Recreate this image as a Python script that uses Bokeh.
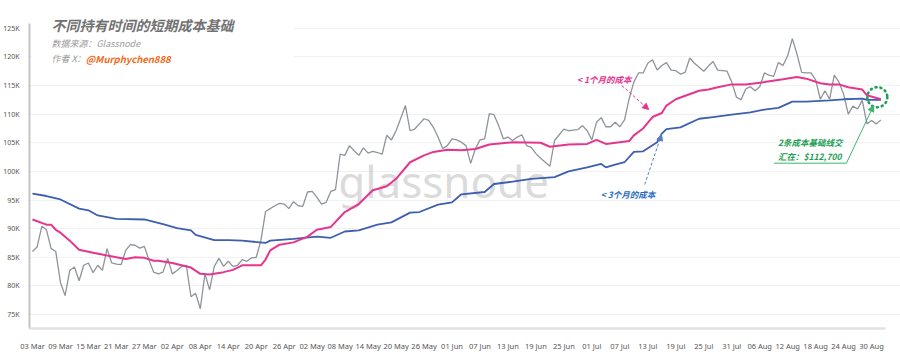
import datetime as dt
import pandas as pd
from bokeh.plotting import figure
from bokeh.models import (Label, Arrow, NormalHead, FixedTicker, DatetimeTickFormatter,
                          CustomJSTickFormatter, Range1d, BoxAnnotation)
from bokeh.embed import file_html
from bokeh.resources import INLINE

# ---------------- data (values in thousands of USD) ----------------
start_date = "2025-03-03"

# BTC price, daily from 03 Mar
price_k = [86.0, 86.8, 90.4, 89.8, 86.5, 86.0, 80.6, 78.3, 82.7, 83.3,
           80.9, 83.6, 84.0, 82.3, 83.6, 82.7, 86.5, 84.0, 83.8, 83.7,
           86.2, 87.2, 87.1, 86.6, 86.9, 84.5, 82.4, 82.1, 82.4, 84.8,
           82.1, 82.7, 83.4, 83.6, 78.1, 78.7, 76.0, 82.1, 79.3, 83.4,
           84.8, 83.4, 84.3, 83.4, 83.6, 84.6, 84.3, 84.9, 85.0, 87.9,
           93.0, 93.5, 94.0, 94.4, 94.3, 93.5, 94.7, 94.0, 93.9, 96.4,
           96.5, 95.5, 94.3, 94.6, 96.5, 96.8, 103.0, 102.8, 104.5, 103.6,
           102.8, 104.1, 103.2, 103.5, 103.3, 103.0, 106.3, 105.5, 107.1, 109.3,
           111.5, 107.1, 107.4, 108.3, 109.2, 108.9, 107.7, 106.0, 104.0, 104.5,
           105.7, 105.5, 105.1, 104.5, 101.4, 103.9, 105.5, 105.7, 110.1, 109.9,
           108.0, 105.7, 106.0, 105.4, 106.0, 106.4, 104.5, 104.2, 103.1, 102.3,
           101.6, 100.9, 105.4, 106.4, 107.4, 107.1, 107.2, 107.3, 108.0, 107.1,
           105.5, 108.6, 109.4, 107.8, 107.8, 108.6, 107.8, 109.0, 112.7, 115.6,
           117.2, 117.2, 118.9, 119.5, 117.7, 118.5, 119.0, 117.7, 117.6, 117.0,
           117.3, 119.8, 118.9, 118.2, 117.5, 118.4, 119.2, 117.7, 117.6, 117.5,
           115.6, 113.0, 112.5, 114.4, 114.8, 114.1, 114.8, 117.2, 116.8, 116.6,
           119.0, 118.5, 120.2, 123.2, 120.5, 117.3, 117.2, 117.2, 116.0, 112.6,
           114.1, 112.6, 116.8, 115.6, 113.5, 110.0, 111.4, 110.9, 112.4, 108.3,
           108.9, 108.3, 109.0]

# < 1 month cost basis (day offset from 03 Mar, value)
cb1m_day = [0, 3, 4, 5, 6, 8, 10, 13, 16, 20, 22, 24, 26, 27, 30, 32, 34, 36, 38, 41,
            43, 45, 49, 50, 51, 53, 56, 59, 61, 64, 67, 70, 73, 76, 78, 81, 84, 86, 89, 92,
            95, 98, 103, 109, 111, 115, 119, 121, 123, 126, 128, 129, 131, 133, 135, 136, 138, 139, 143, 145,
            147, 150, 153, 157, 161, 164, 166, 169, 171, 173, 175, 178, 179, 182]
cb1m_k = [91.6, 90.7, 90.7, 89.8, 89.3, 87.9, 86.3, 85.8, 85.3, 84.7, 85.0, 84.9, 84.4, 84.4, 84.0, 83.6, 83.2, 82.1, 82.0, 82.4,
          82.8, 83.6, 83.6, 84.6, 86.2, 87.2, 87.6, 88.6, 89.8, 90.3, 92.9, 94.3, 96.7, 97.4, 98.7, 101.6, 102.8, 103.4, 103.8, 103.7,
          103.9, 104.7, 105.1, 105.0, 104.3, 104.7, 104.8, 105.5, 104.8, 105.1, 105.3, 106.3, 107.5, 109.5, 110.2, 111.5, 112.6, 112.9, 114.1, 114.3,
          114.7, 115.2, 115.2, 115.6, 116.1, 116.5, 116.2, 115.4, 115.2, 115.2, 114.7, 114.3, 113.3, 112.6]

# < 3 month cost basis
cb3m_day = [0, 3, 6, 10, 12, 14, 18, 24, 28, 31, 34, 35, 39, 42, 45, 50, 51, 56, 61, 64,
            67, 70, 74, 77, 81, 83, 87, 90, 92, 97, 99, 103, 107, 112, 115, 119, 122, 123, 125, 127,
            129, 131, 134, 135, 136, 139, 143, 146, 150, 154, 157, 160, 163, 166, 171, 174, 178, 179, 182]
cb3m_k = [96.1, 95.7, 95.1, 93.5, 93.2, 92.3, 91.7, 91.6, 90.8, 90.1, 89.7, 88.9, 88.0, 88.0, 87.9, 87.5, 87.9, 88.2, 88.6, 88.4,
          89.5, 89.7, 90.7, 91.1, 92.8, 92.9, 94.2, 94.6, 96.0, 96.4, 97.8, 98.2, 98.7, 99.0, 100.0, 100.7, 101.3, 100.7, 101.2, 101.6,
          103.4, 103.5, 105.1, 106.6, 107.4, 107.7, 109.2, 109.5, 109.9, 110.3, 110.8, 111.1, 112.2, 112.2, 112.4, 112.6, 112.7, 112.5, 112.5]

y_ticks_k = [75, 80, 85, 90, 95, 100, 105, 110, 115, 120, 125]
x_tick_start, x_tick_end, x_tick_step_days = "2025-03-03", "2025-08-30", 6

# ---------------- helpers ----------------
t0 = pd.Timestamp(start_date)
DAY_MS = 86400000.0
T0_MS = t0.value / 1e6

price_x = pd.date_range(start_date, periods=len(price_k), freq="D")
cb1m_x = [t0 + pd.Timedelta(days=d) for d in cb1m_day]
cb3m_x = [t0 + pd.Timedelta(days=d) for d in cb3m_day]
x_ticks = [ts.value / 1e6 for ts in pd.date_range(x_tick_start, x_tick_end, freq=f"{x_tick_step_days}D")]

# pixel -> data mapping used to place annotations
PX_DAY, PX_X0 = 4.683, 28.0
PX_K, PX_Y75 = 0.1747, 314.0


def X(px):
    return T0_MS + (px - PX_X0) / PX_DAY * DAY_MS


def Y(py):
    return 75 + (PX_Y75 - py) * PX_K


CJK = "Noto Sans CJK SC"
PINK = "#e5358f"
BLUE = "#3c5fae"
GRAY = "#8e9499"
GREEN = "#1e9e55"
GREEN_LINE = "#3fb46e"

# frame spans x 23..900, y 0..330
p = figure(width=900, height=358, x_axis_type="datetime", output_backend="svg",
           toolbar_location=None,
           x_range=Range1d(X(23), X(900)), y_range=Range1d(Y(330), Y(0)),
           min_border_left=23, min_border_right=0, min_border_top=0, min_border_bottom=28)
p.outline_line_color = None
p.background_fill_color = "white"
p.border_fill_color = "white"

# axes (lines drawn separately)
p.yaxis.ticker = FixedTicker(ticks=y_ticks_k)
p.yaxis.formatter = CustomJSTickFormatter(code="return tick + 'K';")
p.yaxis.axis_line_color = None
p.yaxis.major_tick_line_color = None
p.yaxis.minor_tick_line_color = None
p.yaxis.major_label_text_font_size = "7px"
p.yaxis.major_label_text_color = "#555555"
p.yaxis.major_label_text_font = "Noto Sans"
p.yaxis.major_label_standoff = 2

p.xaxis.ticker = FixedTicker(ticks=x_ticks)
fmt = "%d %b"
p.xaxis.formatter = DatetimeTickFormatter(days=fmt, months=fmt, years=fmt, hours=fmt,
                                          hourmin=fmt, minutes=fmt, minsec=fmt, seconds=fmt,
                                          milliseconds=fmt, microseconds=fmt)
p.xaxis.axis_line_color = None
p.xaxis.major_tick_line_color = None
p.xaxis.minor_tick_line_color = None
p.xaxis.major_label_text_font_size = "7.5px"
p.xaxis.major_label_text_color = "#555555"
p.xaxis.major_label_text_font = "Noto Sans"
p.xaxis.major_label_standoff = 4

p.xgrid.grid_line_color = None
p.ygrid.ticker = FixedTicker(ticks=y_ticks_k)
p.ygrid.grid_line_color = "#f1f1f1"
p.ygrid.grid_line_width = 1

# axis lines
p.add_layout(Arrow(x_start=X(25), y_start=Y(23), x_end=X(25), y_end=Y(328),
                   line_color="#c4c4c4", line_width=2, end=None, level="underlay"))
p.add_layout(Arrow(x_start=X(25), y_start=Y(328), x_end=X(885), y_end=Y(328),
                   line_color="#e2e2e2", line_width=2.5, end=None, level="underlay"))

# watermark
p.add_layout(Label(x=X(441), y=Y(180), text="glassnode", text_align="center",
                   text_baseline="alphabetic", text_font="Noto Sans", text_font_size="44px",
                   text_color="#d2d2d2", text_alpha=0.8, level="underlay"))

# series
p.line(price_x, price_k, line_color=GRAY, line_width=1.3)
p.line(cb3m_x, cb3m_k, line_color=BLUE, line_width=1.8)
p.line(cb1m_x, cb1m_k, line_color=PINK, line_width=2)

# dotted circle marking where the two cost-basis lines meet
p.scatter([X(876.7)], [Y(96.7)], marker="circle", size=20, fill_alpha=0,
          line_color=GREEN, line_width=2.6, line_dash="1 4", line_cap="round")

# title block (white backing hides grid lines behind it)
p.add_layout(BoxAnnotation(left=X(27), right=X(290), top=Y(8), bottom=Y(68),
                           fill_color="white", fill_alpha=1, line_color=None))
p.add_layout(Label(x=X(47), y=Y(24.5), text="不同持有时间的短期成本基础", text_baseline="middle",
                   text_font=CJK, text_font_size="14px", text_font_style="bold italic",
                   text_color="#727272"))
p.add_layout(Label(x=X(47), y=Y(42.7), text="数据来源：Glassnode", text_baseline="middle",
                   text_font=CJK, text_font_size="9px", text_font_style="italic",
                   text_color="#9b9b9b"))
p.add_layout(Label(x=X(47), y=Y(58.3), text="作者 X：", text_baseline="middle",
                   text_font=CJK, text_font_size="9px", text_font_style="italic",
                   text_color="#9b9b9b"))
p.add_layout(Label(x=X(81.5), y=Y(58.3), text="@Murphychen888", text_baseline="middle",
                   text_font=CJK, text_font_size="9.5px", text_font_style="bold italic",
                   text_color="#f26a1b"))

# annotations
p.add_layout(Label(x=X(575), y=Y(78.3), text="< 1个月的成本", text_baseline="middle",
                   text_font=CJK, text_font_size="8.5px", text_font_style="bold italic",
                   text_color=PINK))
p.add_layout(Arrow(x_start=X(620), y_start=Y(85), x_end=X(647), y_end=Y(109),
                   line_color=PINK, line_width=1, line_dash="3 2",
                   end=NormalHead(size=6, fill_color=PINK, line_color=PINK)))

p.add_layout(Label(x=X(599), y=Y(193.3), text="< 3个月的成本", text_baseline="middle",
                   text_font=CJK, text_font_size="8.5px", text_font_style="bold italic",
                   text_color="#2a6ebd"))
p.add_layout(Arrow(x_start=X(643), y_start=Y(184), x_end=X(660), y_end=Y(134),
                   line_color="#5a7fc0", line_width=1, line_dash="3 2",
                   end=NormalHead(size=6, fill_color="#5a7fc0", line_color="#5a7fc0")))

p.add_layout(Label(x=X(777), y=Y(141.7), text="2条成本基础线交", text_baseline="middle",
                   text_font=CJK, text_font_size="8.5px", text_font_style="bold italic",
                   text_color=GREEN))
p.add_layout(Label(x=X(777), y=Y(155.7), text="汇在：$112,700", text_baseline="middle",
                   text_font=CJK, text_font_size="8.5px", text_font_style="bold italic",
                   text_color=GREEN))
p.add_layout(Arrow(x_start=X(773), y_start=Y(162.7), x_end=X(845.7), y_end=Y(162.7),
                   line_color=GREEN_LINE, line_width=1, end=None))
p.add_layout(Arrow(x_start=X(845.7), y_start=Y(162.7), x_end=X(873), y_end=Y(105),
                   line_color=GREEN_LINE, line_width=1,
                   end=NormalHead(size=6, fill_color=GREEN_LINE, line_color=GREEN_LINE)))

open("out.html", "w").write(file_html(p, INLINE))
